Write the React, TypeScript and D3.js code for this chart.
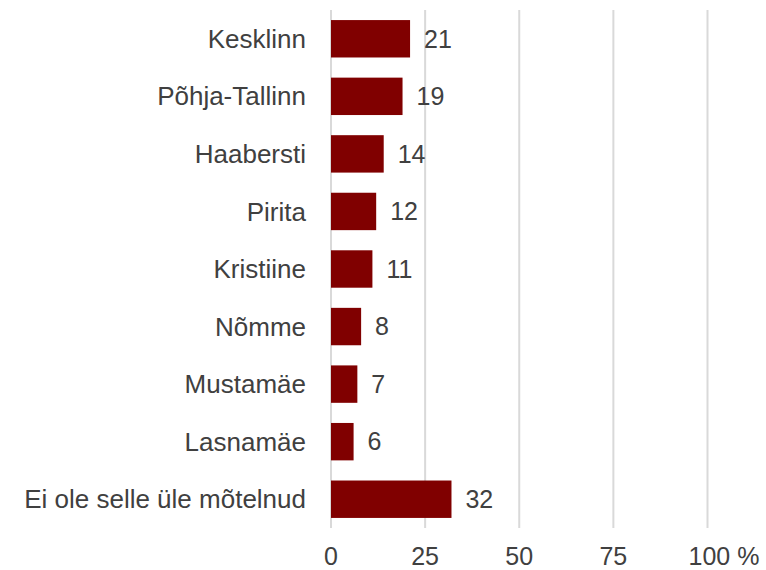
import React from "react";
import * as d3 from "d3";

const categories = ["Kesklinn", "Põhja-Tallinn", "Haabersti", "Pirita", "Kristiine", "Nõmme", "Mustamäe", "Lasnamäe", "Ei ole selle üle mõtelnud"];
const values = [21, 19, 14, 12, 11, 8, 7, 6, 32];
const ticks = [0, 25, 50, 75, 100];
const tickLabels = ["0", "25", "50", "75", "100 %"];

export default function App() {
  const W = 766, H = 570;
  const x = d3.scaleLinear().domain([0, 100]).range([331, 707.5]);
  const y = d3.scaleBand().domain(categories).range([10, 528]).paddingInner(0.35).paddingOuter(0.175);
  const font = "'Liberation Sans', Arial, sans-serif";
  const color = "#404040";
  return (
    <svg width={W} height={H} style={{ position: "absolute", left: 0, top: 0, background: "#fff" }}>
      {ticks.map((t, i) => (
        <line key={i} x1={x(t)} x2={x(t)} y1={10} y2={528} stroke="#d9d9d9" strokeWidth={2} />
      ))}
      {categories.map((c, i) => (
        <g key={c}>
          <rect x={x(0)} y={y(c)!} width={x(values[i]) - x(0)} height={y.bandwidth()} fill="#800000" />
          <text x={306} y={y(c)! + y.bandwidth() / 2} dy="0.35em" textAnchor="end" fontFamily={font} fontSize={26} fill={color}>{c}</text>
          <text x={x(values[i]) + 14} y={y(c)! + y.bandwidth() / 2} dy="0.35em" fontFamily={font} fontSize={25} fill={color}>{values[i]}</text>
        </g>
      ))}
      {ticks.map((t, i) => (
        <text key={i} x={x(t)} y={565} textAnchor={i === ticks.length - 1 ? "start" : "middle"} dx={i === ticks.length - 1 ? -19 : 0} fontFamily={font} fontSize={25} fill={color}>{tickLabels[i]}</text>
      ))}
    </svg>
  );
}
